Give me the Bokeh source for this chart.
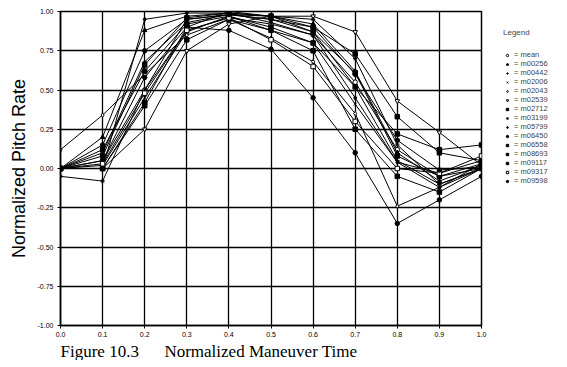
from bokeh.plotting import figure
from bokeh.models import (Legend, LegendItem, Title, FixedTicker, NumeralTickFormatter)
from bokeh.embed import file_html
from bokeh.resources import INLINE

times = [0.0, 0.1, 0.2, 0.3, 0.4, 0.5, 0.6, 0.7, 0.8, 0.9, 1.0]

names = ["mean", "m00256", "m00442", "m02006", "m02043", "m02539", "m02712",
         "m03199", "m05799", "m06450", "m06558", "m08693", "m09117", "m09317", "m09598"]

mean = [0.0, 0.05, 0.50, 0.88, 0.96, 0.92, 0.85, 0.55, 0.12, -0.05, 0.0]
m00256 = [0.0, 0.20, 0.88, 0.97, 0.99, 0.97, 0.92, 0.62, 0.10, -0.08, 0.02]
m00442 = [0.0, 0.10, 0.68, 0.93, 0.98, 0.95, 0.87, 0.52, 0.05, -0.10, 0.0]
m02006 = [0.0, 0.02, 0.45, 0.87, 0.97, 0.88, 0.80, 0.41, 0.04, -0.03, 0.05]
m02043 = [0.12, 0.34, 0.60, 0.85, 0.95, 0.83, 0.68, 0.35, -0.24, -0.12, 0.0]
m02539 = [0.0, 0.0, 0.25, 0.75, 0.92, 0.97, 0.97, 0.87, 0.43, 0.23, 0.02]
m02712 = [0.0, 0.0, 0.42, 0.90, 1.0, 0.97, 0.90, 0.73, 0.33, 0.10, 0.05]
m03199 = [-0.05, -0.08, 0.50, 0.95, 0.98, 0.97, 0.95, 0.70, 0.15, -0.10, 0.0]
m05799 = [0.0, 0.0, 0.95, 0.99, 0.99, 0.93, 0.85, 0.45, 0.04, -0.12, 0.03]
m06450 = [0.0, 0.05, 0.58, 0.90, 0.88, 0.76, 0.45, 0.10, -0.35, -0.20, -0.05]
m06558 = [0.0, 0.12, 0.62, 0.92, 0.97, 0.90, 0.80, 0.52, 0.22, 0.12, 0.15]
m08693 = [0.0, 0.0, 0.40, 0.82, 0.95, 0.88, 0.75, 0.25, -0.05, -0.15, 0.0]
m09117 = [0.0, 0.08, 0.66, 0.96, 0.99, 0.97, 0.87, 0.61, 0.08, -0.05, 0.03]
m09317 = [0.0, 0.03, 0.48, 0.88, 0.96, 0.82, 0.65, 0.30, 0.0, -0.03, 0.08]
m09598 = [0.0, 0.15, 0.75, 0.95, 0.98, 0.95, 0.90, 0.60, 0.18, -0.01, 0.01]

series = [mean, m00256, m00442, m02006, m02043, m02539, m02712, m03199,
          m05799, m06450, m06558, m08693, m09117, m09317, m09598]

x_ticks = [0.0, 0.1, 0.2, 0.3, 0.4, 0.5, 0.6, 0.7, 0.8, 0.9, 1.0]
y_ticks = [-1.0, -0.75, -0.5, -0.25, 0.0, 0.25, 0.5, 0.75, 1.0]

caption = "Figure 10.3"
x_title = "Normalized Maneuver Time"
y_title = "Normalized Pitch Rate"

markers = ["circle", "triangle", "cross", "x", "diamond", "inverted_triangle", "square",
           "asterisk", "diamond", "circle", "square", "square", "square", "square", "circle"]
filled = [False, True, True, True, False, False, True, True, True, True, True, True, True, False, True]

p = figure(width=567, height=367, x_range=(0, 1), y_range=(-1, 1),
           output_backend="svg", toolbar_location=None,
           frame_width=421, frame_height=314,
           min_border_left=60, min_border_right=10, min_border_top=11, min_border_bottom=8)

p.outline_line_color = "black"
p.outline_line_width = 1.5
p.background_fill_color = "white"
p.border_fill_color = "white"

for g in (p.xgrid, p.ygrid):
    g.grid_line_color = "black"
    g.grid_line_width = 1.3
p.xgrid.ticker = FixedTicker(ticks=x_ticks)
p.ygrid.ticker = FixedTicker(ticks=y_ticks)

p.xaxis.ticker = FixedTicker(ticks=x_ticks)
p.yaxis.ticker = FixedTicker(ticks=y_ticks)
p.xaxis.formatter = NumeralTickFormatter(format="0.0")
p.yaxis.formatter = NumeralTickFormatter(format="0.00")
for ax in (p.xaxis, p.yaxis):
    ax.axis_line_color = "black"
    ax.axis_line_width = 1.5
    ax.major_tick_line_color = "black"
    ax.major_tick_out = 3
    ax.major_tick_in = 0
    ax.minor_tick_line_color = None
    ax.major_label_text_font = "Liberation Sans"
    ax.major_label_text_font_size = "7px"
    ax.major_label_text_color = "black"
    ax.axis_label_text_font_style = "normal"
    ax.axis_label_text_color = "black"
p.xaxis.major_label_standoff = 3
p.yaxis.major_label_standoff = 4

p.yaxis.axis_label = y_title
p.yaxis.axis_label_text_font = "Liberation Sans"
p.yaxis.axis_label_text_font_size = "18px"
p.yaxis.axis_label_standoff = 6

# caption and x-axis title share one line below the axis, as in the scan
bottom_title = Title(text=caption + "\u00a0" * 6 + x_title, align="left",
                     text_font="Liberation Serif", text_font_size="17px",
                     text_font_style="normal", text_color="black", standoff=0)
p.add_layout(bottom_title, "below")

items = []
for name, ys, mk, fl in zip(names, series, markers, filled):
    p.line(times, ys, line_color="black", line_width=1.0)
    r = p.scatter(times, ys, marker=mk, size=4.5, line_color="black",
                  fill_color="black" if fl else "white", line_width=1)
    items.append(LegendItem(label="= " + name, renderers=[r]))

legend = Legend(items=items, title="Legend", location=(22, 140),
                label_text_font="Liberation Sans", label_text_font_size="7.5px",
                title_text_font="Liberation Sans", title_text_font_size="8px",
                title_text_font_style="normal", title_standoff=13,
                label_height=6, glyph_height=6, glyph_width=8, spacing=0,
                padding=0, margin=0, border_line_alpha=0, background_fill_alpha=0,
                label_standoff=3)
p.add_layout(legend, "right")

open("out.html", "w").write(file_html(p, INLINE))
